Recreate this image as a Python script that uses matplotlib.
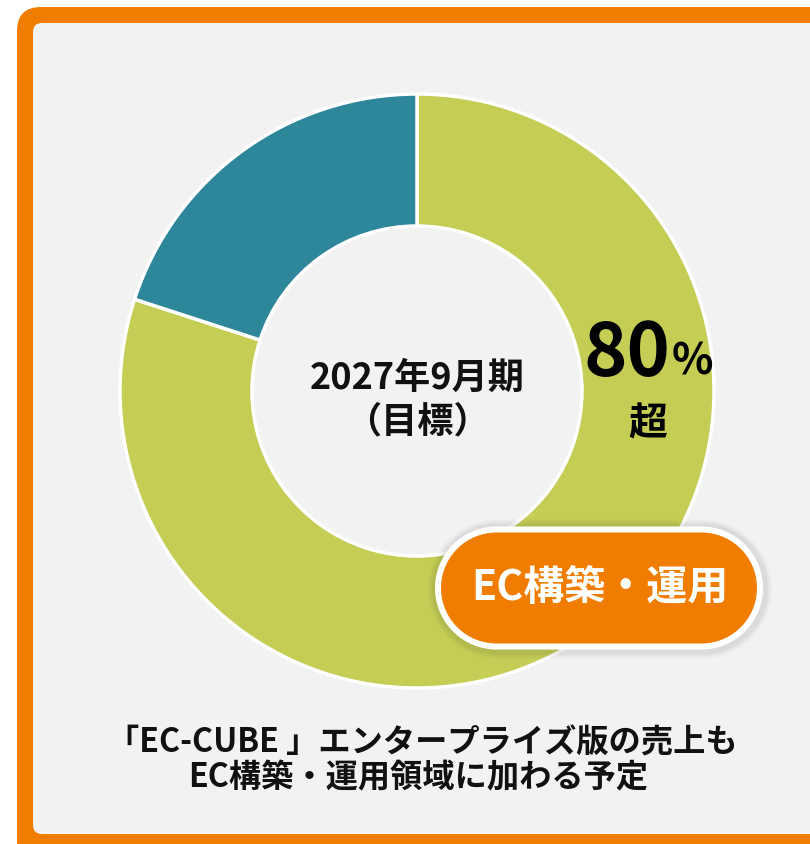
import matplotlib
matplotlib.use("Agg")
import matplotlib.pyplot as plt
import numpy as np
from matplotlib.patches import FancyBboxPatch, Polygon

plt.rcParams['font.family'] = ['Noto Sans CJK JP', 'DejaVu Sans']

# data
segments = ["EC構築・運用", "その他"]
shares = [80, 20]
colors = ["#C5CD55", "#2E869B"]
center_lines = ["2027年9月期", "（目標）"]
value_big = "80"
value_unit = "%"
value_suffix = "超"
pill_label = "EC構築・運用"
note_lines = ["「EC-CUBE 」エンタープライズ版の売上も", "EC構築・運用領域に加わる予定"]

W, H = 810, 845
fig = plt.figure(figsize=(W / 100, H / 100), dpi=100)
fig.patch.set_facecolor("white")
ax = fig.add_axes([0, 0, 1, 1])

def Y(y):
    return H - y

ORANGE = "#F07D00"
GRAY = "#F2F2F2"

def stadium(x0, x1, yc, h, **kw):
    r = h / 2
    t1 = np.linspace(-np.pi / 2, np.pi / 2, 60)
    t2 = np.linspace(np.pi / 2, 3 * np.pi / 2, 60)
    right = np.column_stack([x1 - r + r * np.cos(t1), yc + r * np.sin(t1)])
    left = np.column_stack([x0 + r + r * np.cos(t2), yc + r * np.sin(t2)])
    return Polygon(np.vstack([right, left]), closed=True, **kw)

# frame
ax.add_patch(FancyBboxPatch((17, Y(870)), 830, 862, boxstyle="round,pad=0,rounding_size=24",
                            facecolor=ORANGE, edgecolor="none", zorder=0))
ax.add_patch(FancyBboxPatch((33, Y(835)), 810, 811, boxstyle="round,pad=0,rounding_size=9",
                            facecolor=GRAY, edgecolor="none", zorder=1))

# donut
cx, cy, R = 417, Y(392), 297
ax.pie(shares, colors=colors, startangle=90, counterclock=False, radius=R,
       center=(cx, cy),
       wedgeprops=dict(width=132, edgecolor="white", linewidth=2.5, zorder=3))

# center text
ax.text(cx, Y(378), center_lines[0], ha="center", va="center", fontsize=26,
        fontweight="bold", color="#111111", zorder=5)
ax.text(cx, Y(422), center_lines[1], ha="center", va="center", fontsize=26,
        fontweight="bold", color="#111111", zorder=5)

# 80% 超
ax.text(670, Y(355), value_big, ha="right", va="center", fontsize=53,
        fontweight="bold", color="black", zorder=5)
ax.text(672, Y(362), value_unit, ha="left", va="center", fontsize=31,
        fontweight="bold", color="black", zorder=5)
ax.text(648, Y(424), value_suffix, ha="center", va="center", fontsize=28,
        fontweight="bold", color="black", zorder=5)

# pill with soft shadow
pyc = Y(589)
for g, a in [(8, 0.025), (6, 0.03), (4, 0.035)]:
    ax.add_patch(stadium(435 - g + 1, 763 + g + 1, pyc - 1, 123 + 2 * g,
                         facecolor="black", alpha=a, edgecolor="none", zorder=6))
ax.add_patch(stadium(435, 763, pyc, 123, facecolor="white", edgecolor="none", zorder=7))
ax.add_patch(stadium(441, 757, pyc, 111, facecolor=ORANGE, edgecolor="none", zorder=8))
ax.text(600, Y(588), pill_label, ha="center", va="center", fontsize=29.5,
        fontweight="bold", color="white", zorder=9)

# note
ax.text(422, Y(743), note_lines[0], ha="center", va="center", fontsize=23.2,
        fontweight="bold", color="#111111", zorder=5)
ax.text(418, Y(778), note_lines[1], ha="center", va="center", fontsize=23.2,
        fontweight="bold", color="#111111", zorder=5)

ax.set_xlim(0, W)
ax.set_ylim(0, H)
ax.set_aspect("equal")
ax.axis("off")

fig.savefig("out.png", dpi=100, facecolor="white")
